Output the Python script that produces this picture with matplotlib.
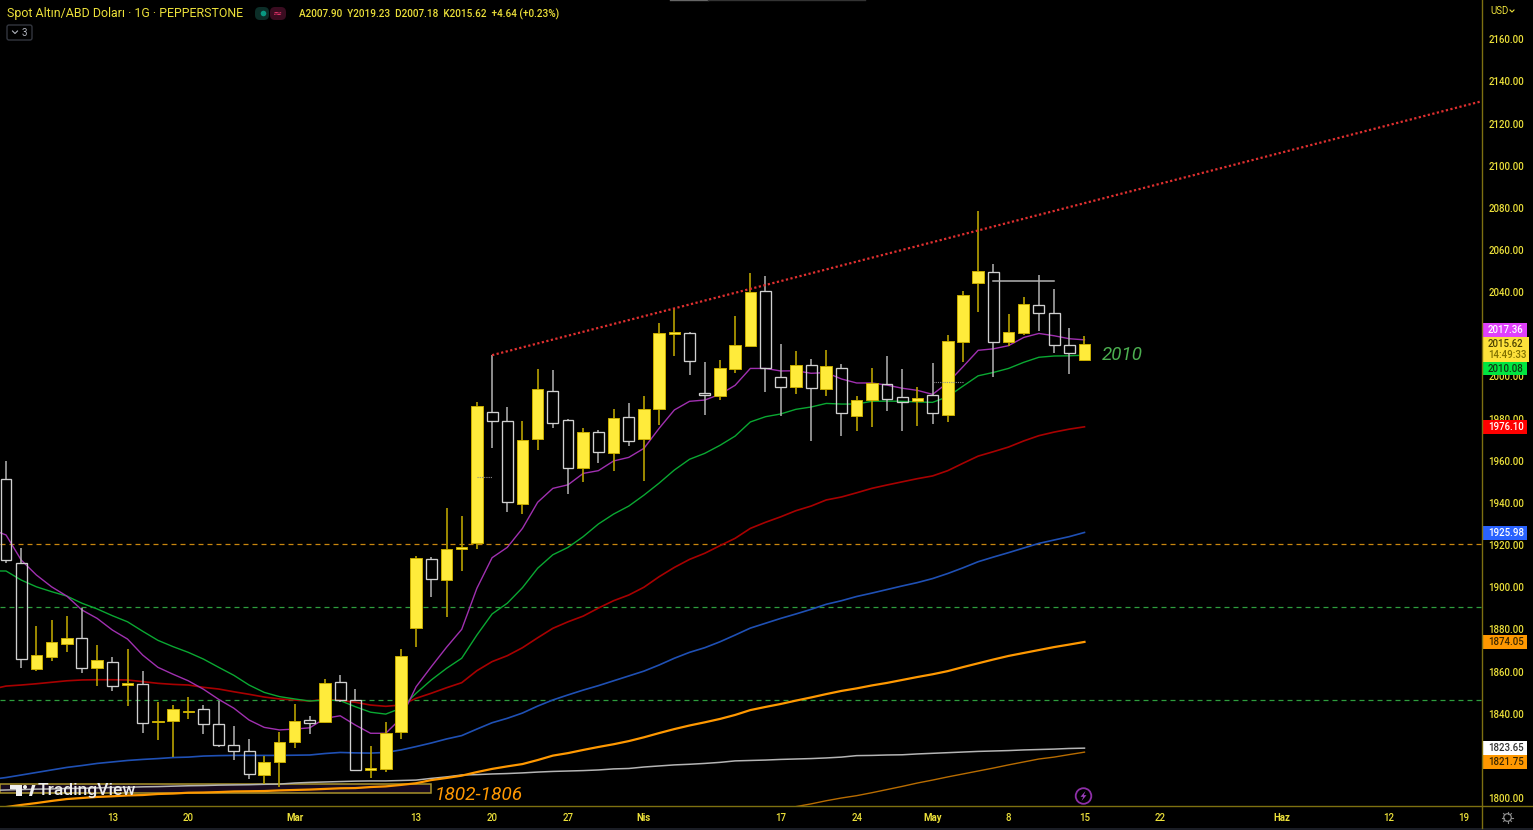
import numpy as np
import matplotlib
matplotlib.use("Agg")
import matplotlib.pyplot as plt
from matplotlib.patches import Rectangle, Circle, FancyBboxPatch, Polygon

# daily candles
opens = [1951.2, 1911.6, 1861.1, 1866.7, 1872.9, 1875.8, 1861.8, 1864.7, 1853.5, 1853.9, 1836.1, 1836.5,
         1840.7, 1842.1, 1835.1, 1825.3, 1822.2, 1810.9, 1816.9, 1826.7, 1837.0, 1835.9, 1855.2, 1846.5,
         1813.3, 1813.8, 1831.2, 1880.8, 1913.5, 1903.6, 1918.3, 1920.8, 1983.0, 1978.7, 1939.6, 1970.3,
         1993.1, 1979.2, 1956.4, 1973.5, 1963.8, 1980.6, 1970.3, 1984.4, 2020.0, 2020.7, 1992.3, 1990.7,
         2003.4, 2014.3, 2040.5, 1999.6, 1995.0, 2005.3, 1994.2, 2004.2, 1981.2, 1988.8, 1996.5, 1990.1,
         1988.2, 1991.2, 1981.7, 2016.5, 2044.5, 2049.7, 2016.2, 2020.6, 2034.0, 2029.9, 2014.8, 2007.9]
highs = [1959.9, 1918.5, 1881.6, 1884.4, 1886.3, 1890.0, 1872.4, 1866.7, 1870.8, 1860.2, 1845.5, 1844.0,
         1847.9, 1844.0, 1846.2, 1834.2, 1828.0, 1819.9, 1831.3, 1844.6, 1838.9, 1856.3, 1858.3, 1851.9,
         1824.7, 1835.9, 1870.5, 1914.8, 1914.5, 1937.4, 1933.8, 1988.0, 2010.1, 1985.3, 1978.8, 2003.5,
         2003.0, 1979.6, 1975.4, 1974.6, 1984.5, 1987.5, 1990.7, 2025.2, 2032.3, 2021.2, 2006.7, 2007.8,
         2028.7, 2048.9, 2047.6, 2015.2, 2011.9, 2008.4, 2012.5, 2005.9, 1990.8, 2003.8, 2009.5, 2003.5,
         1995.1, 2006.2, 2019.5, 2040.5, 2078.5, 2053.2, 2029.6, 2037.7, 2048.2, 2041.5, 2022.8, 2019.23]
lows = [1911.6, 1861.8, 1860.4, 1865.1, 1869.3, 1859.2, 1853.1, 1850.9, 1843.6, 1830.7, 1827.5, 1819.3,
        1837.6, 1830.4, 1824.1, 1818.0, 1809.2, 1806.6, 1805.1, 1823.6, 1830.4, 1835.7, 1845.7, 1813.1,
        1809.6, 1812.2, 1828.0, 1871.8, 1895.5, 1886.0, 1907.7, 1918.1, 1966.2, 1935.7, 1934.6, 1964.9,
        1975.5, 1944.1, 1949.9, 1958.8, 1955.3, 1967.1, 1950.4, 1976.9, 2009.8, 2000.8, 1981.8, 1988.8,
        2001.8, 2014.3, 1992.6, 1981.4, 1991.5, 1969.5, 1990.7, 1971.9, 1974.2, 1976.1, 1983.4, 1974.2,
        1976.5, 1977.4, 1978.4, 2006.8, 2030.4, 1999.9, 2014.4, 2019.6, 2021.7, 2011.1, 2001.3, 2007.18]
closes = [1912.8, 1865.8, 1867.7, 1873.9, 1875.8, 1861.5, 1865.5, 1853.1, 1854.4, 1835.7, 1836.7, 1842.1,
          1841.3, 1835.0, 1825.1, 1822.2, 1811.2, 1817.2, 1826.7, 1836.7, 1835.7, 1854.7, 1846.5, 1813.1,
          1814.1, 1831.0, 1867.4, 1913.7, 1904.0, 1918.1, 1919.2, 1986.1, 1978.7, 1940.4, 1969.7, 1993.9,
          1977.9, 1956.4, 1973.5, 1964.3, 1980.3, 1969.2, 1984.4, 2020.4, 2020.9, 2007.2, 1991.2, 2003.8,
          2014.8, 2040.2, 2004.1, 1995.0, 2005.3, 1994.5, 2004.9, 1982.5, 1988.9, 1996.9, 1989.3, 1987.7,
          1989.8, 1982.5, 2016.6, 2038.6, 2050.0, 2016.2, 2021.2, 2034.5, 2030.2, 2015.0, 2011.0, 2015.62]

# moving averages, first value sits one bar left of the first candle
ma_purple = [1927.5, 1924.8, 1912.9, 1905.8, 1900.2, 1895.8, 1889.2, 1885.2, 1879.7, 1875.4, 1867.8, 1862.0,
             1858.7, 1855.6, 1851.6, 1846.8, 1842.6, 1837.0, 1833.5, 1832.3, 1832.7, 1833.3, 1837.8, 1839.0,
             1834.6, 1830.7, 1830.7, 1837.8, 1852.8, 1862.3, 1871.5, 1880.0, 1899.5, 1914.0, 1918.9, 1927.9,
             1940.3, 1946.9, 1948.6, 1954.0, 1955.3, 1959.9, 1961.6, 1965.9, 1975.4, 1984.1, 1988.2, 1988.8,
             1991.5, 1995.8, 2003.8, 2003.8, 2002.6, 2002.7, 2001.5, 2001.8, 1998.8, 1996.9, 1996.9, 1995.9,
             1994.4, 1993.4, 1991.5, 1997.0, 2004.6, 2012.4, 2013.1, 2014.6, 2018.5, 2020.4, 2019.3, 2017.9, 2017.36]
ma_green = [1907.7, 1907.7, 1903.4, 1900.2, 1897.9, 1895.8, 1892.4, 1889.7, 1886.5, 1883.6, 1879.1, 1874.8,
            1871.8, 1869.1, 1865.9, 1862.0, 1858.2, 1853.6, 1850.1, 1848.1, 1847.0, 1846.0, 1846.5, 1846.2,
            1843.3, 1840.7, 1839.8, 1842.6, 1849.7, 1856.0, 1861.5, 1866.3, 1877.3, 1887.3, 1892.4, 1899.8,
            1909.0, 1915.4, 1918.9, 1924.0, 1930.0, 1934.7, 1938.5, 1943.7, 1949.4, 1955.6, 1960.7, 1963.5,
            1967.3, 1971.7, 1978.4, 1980.9, 1982.2, 1984.4, 1985.5, 1987.2, 1986.9, 1986.9, 1988.2, 1988.3,
            1988.2, 1987.9, 1987.7, 1990.4, 1995.4, 2000.3, 2001.9, 2003.8, 2006.7, 2009.1, 2009.7, 2009.8, 2010.08]
ma_red = [1851.5, 1853.1, 1853.6, 1854.2, 1854.9, 1855.6, 1856.0, 1856.1, 1856.1, 1856.0, 1855.2, 1854.4,
          1853.9, 1853.6, 1852.5, 1851.7, 1850.4, 1849.2, 1847.9, 1847.0, 1846.5, 1846.0, 1846.8, 1846.3,
          1845.4, 1844.1, 1843.5, 1844.1, 1847.3, 1849.7, 1852.3, 1854.7, 1860.4, 1864.7, 1867.5, 1871.3,
          1876.0, 1880.5, 1883.6, 1886.3, 1890.1, 1893.6, 1896.3, 1900.0, 1905.0, 1909.4, 1913.2, 1916.1,
          1919.7, 1923.2, 1927.9, 1930.8, 1933.4, 1936.3, 1938.5, 1941.4, 1942.8, 1944.8, 1946.9, 1948.5,
          1950.0, 1951.5, 1952.8, 1955.3, 1958.8, 1962.2, 1964.3, 1966.5, 1969.4, 1971.9, 1973.6, 1975.0, 1976.1]
ma_blue = [1808.8, 1809.7, 1810.9, 1812.1, 1813.3, 1814.5, 1815.4, 1816.4, 1817.1, 1817.8, 1818.3, 1818.7,
           1819.2, 1819.4, 1819.9, 1820.1, 1820.2, 1820.2, 1820.2, 1820.2, 1820.3, 1820.4, 1821.1, 1821.6,
           1821.4, 1821.3, 1821.6, 1822.8, 1824.4, 1826.1, 1828.0, 1829.6, 1832.7, 1835.7, 1837.8, 1840.3,
           1843.6, 1846.5, 1848.9, 1851.2, 1853.3, 1855.6, 1857.9, 1860.2, 1863.1, 1866.3, 1869.1, 1871.3,
           1874.1, 1877.3, 1880.6, 1882.9, 1885.2, 1887.3, 1889.5, 1891.9, 1893.6, 1895.6, 1897.2, 1898.9,
           1900.6, 1902.2, 1904.1, 1906.5, 1909.2, 1912.1, 1914.3, 1916.4, 1918.6, 1920.8, 1922.4, 1924.0, 1925.98]
ma_orange = [1795.3, 1795.7, 1796.7, 1797.6, 1798.6, 1799.5, 1800.0, 1800.5, 1800.8, 1801.2, 1801.4, 1801.9,
             1802.1, 1802.5, 1802.6, 1802.8, 1803.1, 1803.2, 1803.3, 1803.6, 1803.8, 1804.0, 1804.3, 1804.6,
             1804.7, 1805.2, 1805.5, 1806.2, 1807.0, 1808.5, 1809.5, 1810.6, 1812.3, 1813.8, 1815.0, 1816.1,
             1818.0, 1820.1, 1821.3, 1822.8, 1824.2, 1825.5, 1827.0, 1828.8, 1830.8, 1832.7, 1834.4, 1835.9,
             1837.5, 1839.4, 1841.7, 1843.2, 1844.6, 1846.2, 1847.7, 1849.3, 1850.8, 1852.0, 1853.4, 1854.6,
             1856.0, 1857.4, 1858.7, 1860.2, 1862.1, 1863.9, 1865.7, 1867.4, 1868.8, 1870.2, 1871.6, 1872.8, 1874.05]
ma_grey = [1803.6, 1803.8, 1804.0, 1804.2, 1804.3, 1804.5, 1804.6, 1804.8, 1805.0, 1805.1, 1805.3, 1805.4,
           1805.6, 1805.8, 1805.9, 1806.1, 1806.2, 1806.3, 1806.5, 1806.6, 1807.1, 1807.4, 1807.6, 1807.8,
           1808.0, 1808.1, 1808.1, 1808.3, 1808.5, 1809.3, 1810.0, 1810.9, 1811.1, 1811.4, 1811.6, 1811.9,
           1812.3, 1812.6, 1812.8, 1813.0, 1813.3, 1813.8, 1814.0, 1814.7, 1815.2, 1815.7, 1816.0, 1816.4,
           1816.9, 1817.6, 1817.8, 1818.0, 1818.3, 1818.5, 1818.7, 1819.0, 1819.4, 1820.1, 1820.2, 1820.4,
           1820.5, 1820.9, 1821.2, 1821.5, 1821.8, 1822.1, 1822.3, 1822.5, 1822.8, 1823.0, 1823.2, 1823.5, 1823.65]
# only visible from bar 52 on
thin_orange_bars = list(range(52, 72))
thin_orange = [1795.9, 1797.2, 1798.7, 1800.0, 1801.1, 1802.5, 1804.0, 1805.5, 1807.1, 1808.5,
               1810.0, 1811.4, 1812.8, 1814.2, 1815.7, 1817.1, 1818.5, 1819.4, 1820.6, 1821.75]

# drawings on the chart
trend_bars = [32, 97.17]
trend_prices = [2010.1, 2130.6]
hline_prices = [1920.5, 1890.6, 1846.5]
hline_colors = ["#c8860f", "#2e9e3e", "#2e9e3e"]
box_bar_end = 28
box_low, box_high = 1802.2, 1806.6
grey_level = (65, 69, 2045.3)
dotted_levels = [(31, 32, 1952.3), (61, 63, 1997.3)]

# 2020 and 1820 are covered by the price tags in the reference, so no label for them
y_ticks = [t for t in range(1800, 2180, 20) if t not in (2020, 1820)]
x_tick_bars = [7, 12, 19, 27, 32, 37, 42, 51, 56, 61, 66, 71, 76, 84, 91, 96]
x_tick_labels = ["13", "20", "Mar", "13", "20", "27", "Nis", "17", "24", "May", "8", "15", "22", "Haz", "12", "19"]
month_labels = ["Mar", "Nis", "May", "Haz"]

tag_texts = ["2017.36", "1976.10", "1925.98", "1874.05", "1823.65", "1821.75"]
tag_y = [330, 427, 533, 642, 748, 762]
tag_colors = ["#e040fb", "#ff0000", "#2962ff", "#ff9800", "#ffffff", "#ff9800"]
tag_text_colors = ["#ffffff", "#ffffff", "#ffffff", "#3a2600", "#333333", "#3a2600"]

YELLOW = "#ffeb3b"
AXIS_TEXT = "#ece03a"
AXIS_LINE = "#7d7010"
FONT = "Roboto"

W, H = 1533, 830
PANE_R, PANE_B = 1482, 806

plt.rcParams["font.family"] = [FONT, "DejaVu Sans"]

fig = plt.figure(figsize=(W / 100, H / 100), dpi=100, facecolor="black")
ax = fig.add_axes([0, (H - PANE_B) / H, PANE_R / W, PANE_B / H], facecolor="black")
ax.set_xlim(-0.395, 97.17)
ax.set_ylim(1796.2, 2178.6)

bars = np.arange(len(opens))
o, h, l, c = map(np.array, (opens, highs, lows, closes))
up = c >= o
top = np.maximum(o, c)
bot = np.minimum(o, c)

# levels and box sit behind everything
for price, col in zip(hline_prices, hline_colors):
    ax.axhline(price, color=col, lw=0.9, dashes=(4, 3.2), zorder=1)
ax.add_patch(Rectangle((-0.395, box_low), box_bar_end + 0.395, box_high - box_low,
                       facecolor="#170a1e", edgecolor="#a8922a", lw=1.1, zorder=1))

# moving averages
ma_bars = np.arange(-1, len(opens))
ax.plot(ma_bars, ma_grey, color="#b4b4b4", lw=1.1, zorder=2)
ax.plot(thin_orange_bars, thin_orange, color="#b86c00", lw=1.0, zorder=2)
ax.plot(ma_bars, ma_orange, color="#ff9800", lw=1.6, zorder=2)
ax.plot(ma_bars, ma_blue, color="#1f50b4", lw=1.2, zorder=2)
ax.plot(ma_bars, ma_red, color="#a80000", lw=1.2, zorder=2)
ax.plot(ma_bars, ma_green, color="#0aa832", lw=1.0, zorder=2)
ax.plot(ma_bars, ma_purple, color="#a030b0", lw=1.0, zorder=2)

# candles: up filled yellow, down hollow so the lines show through
ax.vlines(bars[up], top[up], h[up], color="#b8a200", lw=1.2, zorder=3)
ax.vlines(bars[up], l[up], bot[up], color="#b8a200", lw=1.2, zorder=3)
ax.vlines(bars[~up], top[~up], h[~up], color="#b4b4b4", lw=1.1, zorder=3)
ax.vlines(bars[~up], l[~up], bot[~up], color="#b4b4b4", lw=1.1, zorder=3)
ax.bar(bars[~up], (top - bot)[~up], bottom=bot[~up], width=0.72, facecolor="none",
       edgecolor="#d0d0d0", lw=0.95, zorder=3)
ax.bar(bars[up], (top - bot)[up], bottom=bot[up], width=0.76, facecolor=YELLOW,
       edgecolor="#c9ad00", lw=0.7, zorder=4)

ax.plot(trend_bars, trend_prices, color="#e03030", lw=1.6, dashes=(1, 1.1), zorder=4)
ax.plot(grey_level[:2], [grey_level[2]] * 2, color="#b4b4b4", lw=1.1, zorder=4)
for b0, b1, price in dotted_levels:
    ax.plot([b0, b1], [price, price], color="#8a8a8a", lw=0.8, dashes=(1, 1), zorder=5)

ax.yaxis.tick_right()
ax.set_yticks(y_ticks)
ax.set_yticklabels([f"{t:.2f}" for t in y_ticks], color=AXIS_TEXT, fontsize=6.9, fontweight="medium")
ax.tick_params(axis="y", length=0, pad=4.5)
ax.set_xticks(x_tick_bars)
ax.set_xticklabels(x_tick_labels, color=AXIS_TEXT, fontsize=6.9, fontweight="medium")
ax.tick_params(axis="x", length=0, pad=5)
for lab in ax.get_xticklabels():
    if lab.get_text() in month_labels:
        lab.set_fontweight("bold")
for s in ax.spines.values():
    s.set_visible(False)

# overlay in pixels for the TradingView furniture
ui = fig.add_axes([0, 0, 1, 1])
ui.set_xlim(0, W)
ui.set_ylim(H, 0)
ui.axis("off")
ui.patch.set_alpha(0)

ui.plot([PANE_R, PANE_R], [0, 828], color=AXIS_LINE, lw=1)
ui.plot([0, W], [PANE_B, PANE_B], color=AXIS_LINE, lw=1)
ui.add_patch(Rectangle((0, 828), W, 2, facecolor="#1a1d25", lw=0))
ui.plot([670, 708], [0.5, 0.5], color="#666666", lw=1)
ui.plot([708, 865], [0.5, 0.5], color="#333333", lw=1)

ui.text(7, 13.5, "Spot Altın/ABD Doları · 1G · PEPPERSTONE", color=AXIS_TEXT, fontsize=8.9, va="center")
ui.text(299, 14, "A2007.90  Y2019.23  D2007.18  K2015.62  +4.64 (+0.23%)", color=AXIS_TEXT,
        fontsize=7.2, va="center", fontweight="medium")
ui.add_patch(FancyBboxPatch((255, 7), 14, 13, boxstyle="round,pad=0,rounding_size=5", facecolor="#0c2e28", lw=0))
ui.add_patch(FancyBboxPatch((270, 7), 16, 13, boxstyle="round,pad=0,rounding_size=5", facecolor="#3a0c20", lw=0))
ui.add_patch(Circle((263.5, 13.5), 2.8, facecolor="#089981", lw=0))
ui.text(278, 13.5, "≈", color="#f23670", fontsize=8, ha="center", va="center", family="DejaVu Sans")
ui.add_patch(FancyBboxPatch((7, 25), 25, 15, boxstyle="round,pad=0,rounding_size=2", facecolor="black",
                            edgecolor="#33363f", lw=1))
ui.plot([12.5, 15, 17.5], [31, 33.5, 31], color="#b2b5be", lw=0.8)
ui.text(22, 32.5, "3", color="#b2b5be", fontsize=7, va="center")

ui.text(1490, 11, "USD", color=AXIS_TEXT, fontsize=6.9, va="center")
ui.plot([1510, 1512, 1514], [10, 12, 10], color=AXIS_TEXT, lw=0.8)

# price tags on the axis
for txt, y, col, tc in zip(tag_texts, tag_y, tag_colors, tag_text_colors):
    ui.add_patch(Rectangle((PANE_R, y - 6.7), 44.7, 13.4, facecolor=col, lw=0))
    ui.text(1488, y + 0.3, txt, color=tc, fontsize=6.9, va="center", fontweight="medium")
ui.add_patch(Rectangle((PANE_R, 336.7), 47.3, 25, facecolor="#fde13a", lw=0))
ui.text(1488, 344, "2015.62", color="#4a4000", fontsize=6.9, va="center", fontweight="medium")
ui.text(1488, 355, "14:49:33", color="#7f7000", fontsize=6.9, va="center", fontweight="medium")
ui.add_patch(Rectangle((PANE_R, 362), 44.7, 13.4, facecolor="#00e640", lw=0))
ui.text(1488, 369, "2010.08", color="#123312", fontsize=6.9, va="center", fontweight="medium")

ui.text(435, 795, "1802-1806", color="#ff9800", fontsize=13.8, style="italic", va="center")
ui.text(1102, 354.5, "2010", color="#4caf50", fontsize=13.5, style="italic", va="center")

# watermark
ui.add_patch(Polygon([(10, 785), (22, 785), (22, 796), (16, 796), (16, 789), (10, 789)], facecolor="#f0f0f0", lw=0))
ui.add_patch(Circle((25, 787), 2, facecolor="#f0f0f0", lw=0))
ui.add_patch(Polygon([(29, 796), (32, 785), (35.5, 785), (32, 796)], facecolor="#f0f0f0", lw=0))
ui.text(38, 790, "TradingView", color="#ececec", fontsize=12.6, va="center", fontweight="medium")

# lightning badge and settings gear
ui.add_patch(Circle((1083.5, 796), 7.8, facecolor="black", edgecolor="#8e2fa8", lw=1.3))
ui.add_patch(Polygon([(1085.5, 791), (1080.5, 796.8), (1083.3, 796.8), (1081.5, 801),
                      (1086.5, 795.2), (1083.7, 795.2)], facecolor="#a040c0", lw=0))
ui.add_patch(Circle((1507.5, 817.5), 3.8, facecolor="none", edgecolor="#8a8a8a", lw=0.9))
for a in np.deg2rad(np.arange(0, 360, 45)):
    ui.plot([1507.5 + 3.8 * np.cos(a), 1507.5 + 5.6 * np.cos(a)],
            [817.5 + 3.8 * np.sin(a), 817.5 + 5.6 * np.sin(a)], color="#8a8a8a", lw=0.8)

fig.savefig("out.png", dpi=100, facecolor="black")
